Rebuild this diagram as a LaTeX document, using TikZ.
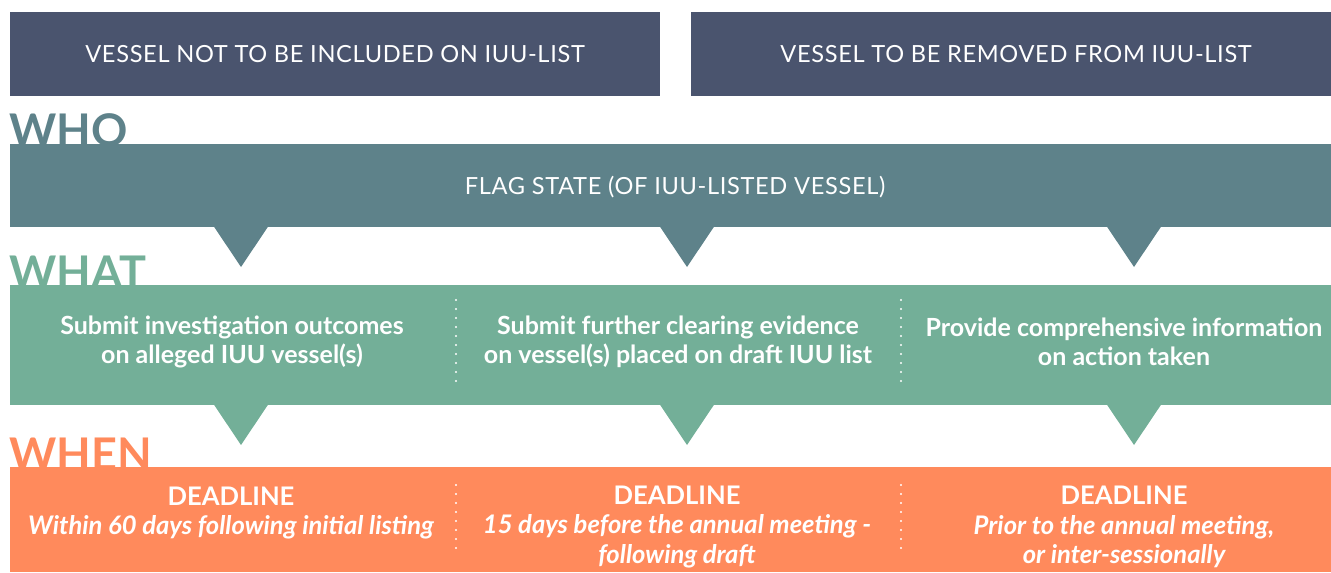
\documentclass[tikz,border=0pt]{standalone}
\usepackage{fontspec}
\setmainfont{Lato}
\usetikzlibrary{positioning}
\definecolor{navy}{HTML}{4A546E}
\definecolor{whocol}{HTML}{5E828A}
\definecolor{whatcol}{HTML}{73AF98}
\definecolor{whencol}{HTML}{FF8A5C}
\tikzset{
  toptext/.style={text=white, inner sep=0pt,
    font=\fontsize{11.8}{14}\selectfont\addfontfeature{LetterSpace=2.8}},
  heading/.style={anchor=base west, inner sep=0pt, font=\fontsize{22.5}{24}\bfseries},
  bodytext/.style={text=white, align=center, inner sep=0pt,
    font=\fontsize{12.5}{14.8}\selectfont\bfseries},
  deadtext/.style={bodytext, font=\fontsize{12.8}{14.8}\selectfont\bfseries},
  dots/.style={white, line width=1.2pt, line cap=round, dash pattern=on 0pt off 4.5pt}
}
\begin{document}
\begin{tikzpicture}[x=0.5pt, y=-0.5pt]
  \useasboundingbox (0,0) rectangle (1331,572);
  \fill[navy] (10,12) rectangle (660,96);
  \fill[navy] (691,12) rectangle (1331,96);
  \node[toptext] (notincl) at (335,54) {VESSEL NOT TO BE INCLUDED ON IUU-LIST};
  \node[toptext] (removed) at (1016,54) {VESSEL TO BE REMOVED FROM IUU-LIST};

  \node[heading, text=whocol] (who) at (9,147) {WHO};
  \node[heading, text=whatcol] (what) at (9,288) {WHAT};
  \node[heading, text=whencol] (when) at (9,470) {WHEN};

  \fill[whocol] (10,144) rectangle (1331,227);
  \fill[whatcol] (10,285) rectangle (1331,405);
  \fill[whencol] (10,467) rectangle (1331,572);
  \foreach \x in {241,687,1134} {
    \fill[whocol] (\x-27.5,226) -- (\x+27.5,226) -- (\x,267) -- cycle;
    \fill[whatcol] (\x-27.5,404) -- (\x+27.5,404) -- (\x,445) -- cycle;
  }
  \foreach \x in {456,901} {
    \draw[dots] (\x,300) -- (\x,388);
    \draw[dots] (\x,485) -- (\x,552);
  }

  \node[toptext] (flag) at (675,187) {FLAG STATE (OF IUU-LISTED VESSEL)};

  \node[bodytext] (submit) at (232,342) {Submit investigation outcomes\\on alleged IUU vessel(s)};
  \node[bodytext] (clearing) at (678,342) {Submit further clearing evidence\\on vessel(s) placed on draft IUU list};
  \node[bodytext] (provide) at (1124,342) {Provide comprehensive information\\on action taken};

  \node[deadtext] (within) at (231,513) {DEADLINE\\\itshape Within 60 days following initial listing};
  \node[deadtext] (before) at (677,527) {DEADLINE\\\itshape 15 days before the annual meeting -\\\itshape following draft};
  \node[deadtext] (prior) at (1124,527) {DEADLINE\\\itshape Prior to the annual meeting,\\\itshape or inter-sessionally};
\end{tikzpicture}
\end{document}
